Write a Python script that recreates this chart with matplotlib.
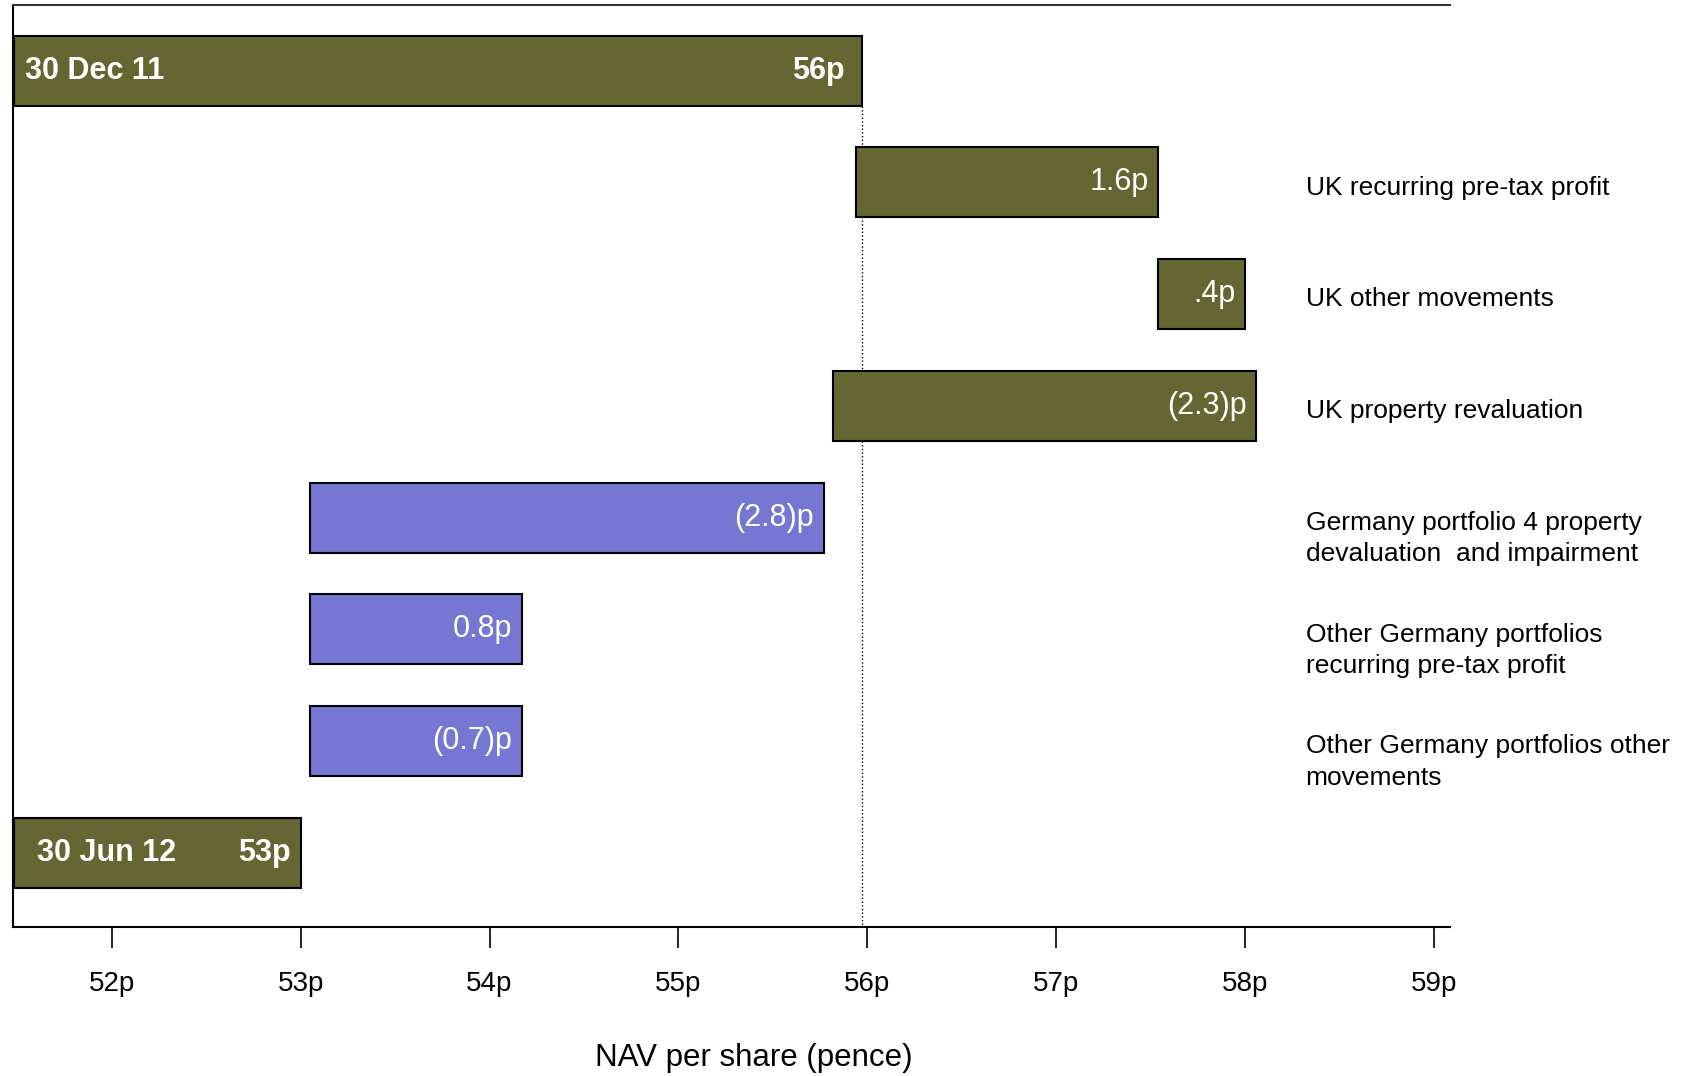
import matplotlib.pyplot as plt

plt.rcParams['font.family'] = ['Liberation Sans', 'DejaVu Sans']

# waterfall rows, top to bottom
row_labels = ["",
              "UK recurring pre-tax profit",
              "UK other movements",
              "UK property revaluation",
              "Germany portfolio 4 property\ndevaluation  and impairment",
              "Other Germany portfolios\nrecurring pre-tax profit",
              "Other Germany portfolios other\nmovements",
              ""]
bar_start = [51.48, 55.94, 57.54, 55.82, 53.05, 53.05, 53.05, 51.48]
bar_end = [55.97, 57.54, 58.0, 58.06, 55.77, 54.17, 54.17, 53.0]
value_labels = ["56p", "1.6p", ".4p", "(2.3)p", "(2.8)p", "0.8p", "(0.7)p", "53p"]
date_labels = {0: "30 Dec 11", 7: "30 Jun 12"}
region = ["total", "uk", "uk", "uk", "de", "de", "de", "total"]

ticks = [52, 53, 54, 55, 56, 57, 58, 59]
tick_labels = ["52p", "53p", "54p", "55p", "56p", "57p", "58p", "59p"]

olive = "#666633"
blue = "#7676D3"
colors = {"total": olive, "uk": olive, "de": blue}

fig = plt.figure(figsize=(16.84, 10.76), dpi=100)
ax = fig.add_axes([13/1684, 149/1076, 1437/1684, 922/1076])

bar_h = 0.625
for i in range(len(bar_start)):
    ax.barh(i, bar_end[i] - bar_start[i], left=bar_start[i], height=bar_h,
            color=colors[region[i]], edgecolor="black", linewidth=1.5, zorder=3)
    bold = region[i] == "total"
    pad = -12 if i == 0 else -7
    ax.annotate(value_labels[i], (bar_end[i], i), xytext=(pad, 0),
                textcoords="offset points", ha="right", va="center",
                color="white", fontsize=22, fontweight="bold" if bold else "normal",
                zorder=4)
    if row_labels[i]:
        ax.text(58.32, i - 0.06, row_labels[i], ha="left", va="top",
                fontsize=19, color="black", linespacing=1.38, clip_on=False)

for i, lab in date_labels.items():
    off = 8 if i == 0 else 17
    ax.annotate(lab, (bar_start[i], i), xytext=(off, 0), textcoords="offset points",
                ha="left", va="center", color="white", fontsize=22,
                fontweight="bold", zorder=4)

ax.set_xlim(51.477, 59.085)
ax.set_ylim(7.663, -0.587)
# dotted guide from the opening NAV down to the axis
ax.vlines(bar_end[0], 0.3125, 7.663, colors="black", linestyles=":", linewidth=1, zorder=2)

ax.set_xticks(ticks)
ax.set_xticklabels(tick_labels, fontsize=20)
ax.tick_params(axis="x", direction="out", length=15, width=1.2, pad=17)
ax.set_yticks([])

ax.spines["right"].set_visible(False)
ax.spines["top"].set_color("#333333")
for s in ["left", "bottom", "top"]:
    ax.spines[s].set_linewidth(1.5)

fig.text(754/1684, 1 - 1058/1076, "NAV per share (pence)", ha="center", va="center",
         fontsize=22.5)

fig.savefig("out.png", dpi=100)
